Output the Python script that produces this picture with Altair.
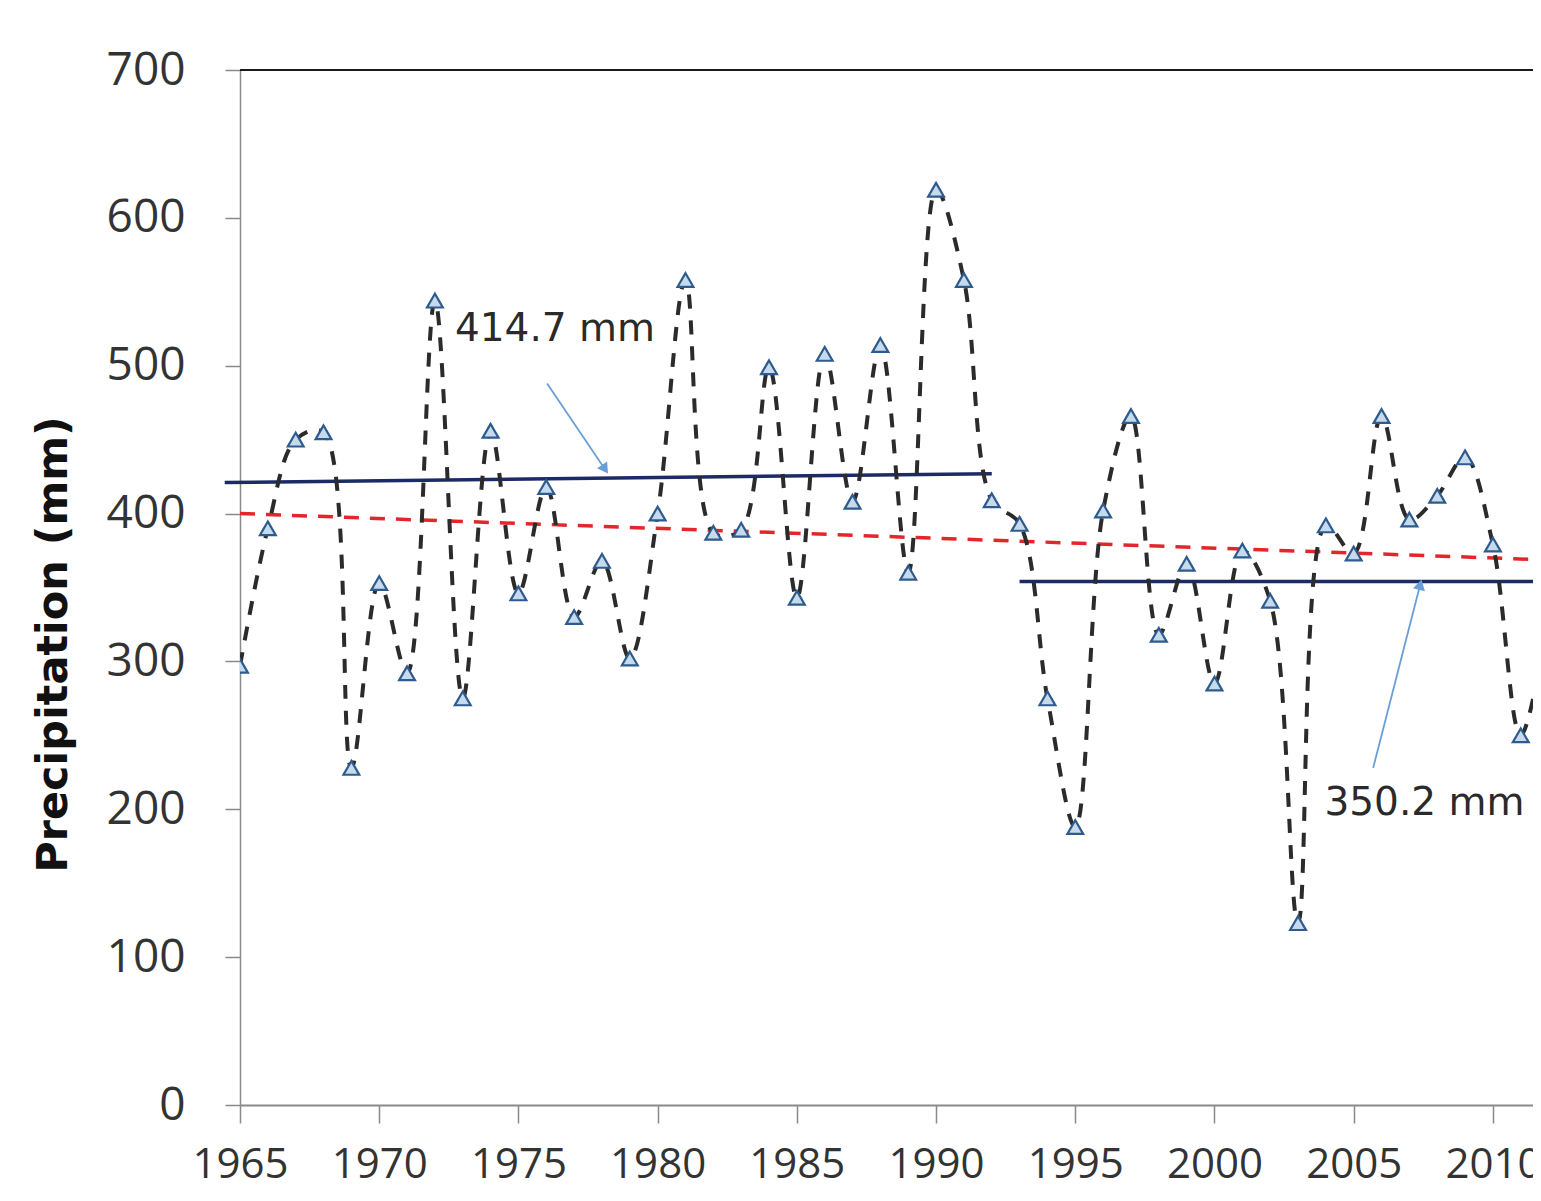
import altair as alt
import pandas as pd

years = list(range(1965, 2013))
precip = [297, 390, 450, 455, 228, 353, 292, 544, 275, 456,
          346, 418, 330, 368, 302, 400, 558, 387, 389, 499,
          343, 508, 408, 514, 360, 619, 558, 409, 393, 275,
          188, 402, 466, 318, 366, 285, 375, 341, 123, 392,
          373, 466, 396, 412, 438, 379, 250, 330]

X_END = 2011.44

# mean lines (navy) for the two periods
mean1_x = [1964.45, 1992.0]
mean1_y = [421, 427]
mean2_x = [1993.0, X_END]
mean2_y = [354, 354]

# linear trend (red dashed)
trend_x = [1965.0, X_END]
trend_y = [400, 369]

# annotation arrows: start -> end
arrow_x = [1976.03, 2005.70]
arrow_y = [488, 228]
arrow_x2 = [1978.11, 2007.39]
arrow_y2 = [430, 352]
arrow_angle = [146, 14]

label_text = ["414.7 mm", "350.2 mm"]
label_x = [1972.72, 2003.95]
label_y = [525, 204]

df = pd.DataFrame({"year": years, "p": precip})
m1 = pd.DataFrame({"year": mean1_x, "p": mean1_y})
m2 = pd.DataFrame({"year": mean2_x, "p": mean2_y})
tr = pd.DataFrame({"year": trend_x, "p": trend_y})
ar = pd.DataFrame({"x": arrow_x, "y": arrow_y, "x2": arrow_x2, "y2": arrow_y2, "ang": arrow_angle})
lb = pd.DataFrame({"t": label_text, "x": label_x, "y": label_y})
frame = pd.DataFrame({"x": [1965.0], "x2": [X_END], "y": [700]})

xscale = alt.Scale(domain=[1965, X_END], nice=False, zero=False)
yscale = alt.Scale(domain=[0, 700], nice=False)

xaxis = alt.Axis(values=list(range(1965, 2011, 5)), format="d", title=None, grid=False,
                 labelFont="Open Sans", labelFontSize=42, labelColor="#333333",
                 labelPadding=21, tickSize=18, tickColor="#8a8a8a", domainColor="#8a8a8a",
                 domainWidth=2, tickWidth=1.5, labelFlush=False)
yaxis = alt.Axis(values=list(range(0, 701, 100)), title="Precipitation  (mm)", grid=False,
                 labelFont="Open Sans", labelFontSize=46, labelColor="#333333",
                 labelPadding=40, tickSize=15, tickColor="#8a8a8a", domainColor="#8a8a8a",
                 domainWidth=1.5, tickWidth=1.5,
                 titleFont="DejaVu Sans", titleFontSize=43, titleFontWeight="bold",
                 titleColor="#111111", titleAngle=270, titleX=-187, titleY=574,
                 titleAlign="center", titleBaseline="middle")

X = lambda f="year": alt.X(f"{f}:Q", scale=xscale, axis=xaxis)
Y = lambda f="p": alt.Y(f"{f}:Q", scale=yscale, axis=yaxis)

border = alt.Chart(frame).mark_rule(color="#1a1a1a", strokeWidth=2).encode(
    x=alt.X("x:Q", scale=xscale, axis=xaxis), x2="x2:Q",
    y=alt.Y("y:Q", scale=yscale, axis=yaxis))

trend = alt.Chart(tr).mark_line(color="#e3262b", strokeWidth=3.5, strokeDash=[15, 11]).encode(x=X(), y=Y())
mean1 = alt.Chart(m1).mark_line(color="#1c2a66", strokeWidth=3.5, clip=False).encode(x=X(), y=Y())
mean2 = alt.Chart(m2).mark_line(color="#1c2a66", strokeWidth=3.5).encode(x=X(), y=Y())

series = alt.Chart(df).mark_line(color="#2b2b2b", strokeWidth=4, strokeDash=[14, 12],
                                 interpolate="catmull-rom", clip=True).encode(x=X(), y=Y())
markers = alt.Chart(df).mark_point(shape="triangle-up", size=250, filled=True,
                                   fill="#c6daee", stroke="#2f5b8c", strokeWidth=2.2,
                                   opacity=1, clip=True).encode(x=X(), y=Y())

arrow_lines = alt.Chart(ar).mark_rule(color="#6a9fd6", strokeWidth=1.8).encode(
    x=alt.X("x:Q", scale=xscale, axis=xaxis), y=alt.Y("y:Q", scale=yscale, axis=yaxis),
    x2="x2:Q", y2="y2:Q")
arrow_heads = alt.Chart(ar).mark_point(shape="triangle-up", size=150, filled=True,
                                       color="#6a9fd6", opacity=1).encode(
    x=alt.X("x2:Q", scale=xscale, axis=xaxis), y=alt.Y("y2:Q", scale=yscale, axis=yaxis),
    angle=alt.Angle("ang:Q", scale=None))

labels = alt.Chart(lb).mark_text(align="left", baseline="middle", font="DejaVu Sans",
                                 fontSize=39, color="#2a2a2a").encode(
    x=alt.X("x:Q", scale=xscale, axis=xaxis), y=alt.Y("y:Q", scale=yscale, axis=yaxis), text="t:N")

chart = alt.layer(border, trend, mean1, mean2, series, markers, arrow_lines, arrow_heads, labels).properties(
    width=1293, height=1035,
    autosize=alt.AutoSizeParams(type="none"),
    padding={"left": 232, "top": 62, "right": 0, "bottom": 90},
).configure_view(stroke=None).configure(background="white")

chart.save("out.html", embed_options={"renderer": "svg", "actions": False})
